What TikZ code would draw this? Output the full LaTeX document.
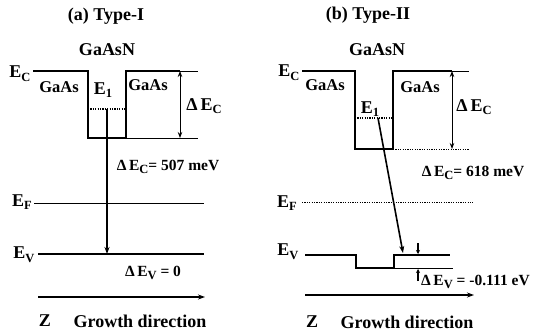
\documentclass[tikz,border=0pt]{standalone}
\usepackage{fontspec}
\setmainfont{Liberation Serif}
\usetikzlibrary{arrows.meta}
\newcommand\lowsub[1]{\raisebox{-0.45ex}{\fontsize{12.5}{13}\selectfont #1}}
\begin{document}
\begin{tikzpicture}[x=1pt,y=-1pt,
  lbl/.style={font=\fontsize{18}{20}\selectfont\bfseries, inner sep=0pt},
  slbl/.style={font=\fontsize{16.5}{18}\selectfont\bfseries, inner sep=0pt},
  vlbl/.style={font=\fontsize{15.5}{17}\selectfont\bfseries, inner sep=0pt},
  thickline/.style={line width=2.2pt},
  thinline/.style={line width=0.9pt},
  dotline/.style={line width=1.6pt, dash pattern=on 1.2pt off 1.2pt},
  tip/.style={-{Stealth[length=7pt,width=5pt]}},
  dtip/.style={{Stealth[length=6pt,width=4.5pt]}-{Stealth[length=6pt,width=4.5pt]}},
  ]
\useasboundingbox (0,0) rectangle (540,333);

% ---------------- panel (a)
\node[lbl] (ta) at (106,16) {(a) Type-I};
\node[lbl] (gna) at (107,50) {GaAsN};
\node[lbl] (eca) at (20,74) {E\lowsub{C}};
\node[slbl] (gla) at (59,87) {GaAs};
\node[slbl] (gra) at (148,85) {GaAs};
\node[lbl] (e1a) at (103,90) {E\lowsub{1}};
\node[lbl] (deca) at (204,106) {Δ\,E\lowsub{C}};
\node[vlbl] (dcva) at (168,167) {Δ\,E\lowsub{C}= 507 meV};
\node[lbl] (efa) at (22,202) {E\lowsub{F}};
\node[lbl] (eva) at (24,255) {E\lowsub{V}};
\node[vlbl] (dva) at (153,273) {Δ\,E\lowsub{V} = 0};
\node[lbl] (za) at (45,321) {Z};
\node[lbl] (gda) at (140,321) {Growth direction};

\coordinate (a1) at (33,71);
\coordinate (a2) at (88,71);
\coordinate (a3) at (88,138);
\coordinate (a4) at (126,138);
\coordinate (a5) at (126,71);
\coordinate (a6) at (180,71);
\coordinate (a7) at (198,71);
\coordinate (a8) at (180,138);
\coordinate (a9) at (198,138);
\draw[thickline, line join=miter] (a1) -- (a2) -- (a3) -- (a4) -- (a5) -- (a6);
\draw[thinline] (a6) -- (a7);
\draw[thinline] (a4) -- (a9);
\draw[thinline, dtip] (a6) -- (a8);
\coordinate (a10) at (88,109);
\coordinate (a11) at (126,109);
\draw[dotline] (a10) -- (a11);
\coordinate (a12) at (107,109);
\coordinate (a13) at (107,254);
\draw[line width=1.6pt, tip] (a12) -- (a13);
\coordinate (a14) at (34,203);
\coordinate (a15) at (204,203);
\draw[thinline] (a14) -- (a15);
\coordinate (a16) at (38,254);
\coordinate (a17) at (204,254);
\draw[thickline] (a16) -- (a17);
\coordinate (a18) at (38,297);
\coordinate (a19) at (205,297);
\draw[thickline, tip] (a18) -- (a19);

% ---------------- panel (b)
\node[lbl] (tb) at (368,15) {(b) Type-II};
\node[lbl] (gnb) at (377,50) {GaAsN};
\node[lbl] (ecb) at (289,73) {E\lowsub{C}};
\node[slbl] (glb) at (325,85) {GaAs};
\node[slbl] (grb) at (420,87) {GaAs};
\node[lbl] (e1b) at (370,109) {E\lowsub{1}};
\node[lbl] (decb) at (474,107) {Δ\,E\lowsub{C}};
\node[vlbl] (dcvb) at (473,173) {Δ\,E\lowsub{C}= 618 meV};
\node[lbl] (efb) at (287,203) {E\lowsub{F}};
\node[lbl] (evb) at (288,252) {E\lowsub{V}};
\node[vlbl, anchor=west] (dvb) at (421,282) {Δ\,E\lowsub{V} = -0.111 eV};
\node[lbl] (zb) at (312,322) {Z};
\node[lbl] (gdb) at (407,322) {Growth direction};

\coordinate (b1) at (302,71);
\coordinate (b2) at (355,71);
\coordinate (b3) at (355,149);
\coordinate (b4) at (393,149);
\coordinate (b5) at (393,71);
\coordinate (b6) at (452,71);
\coordinate (b7) at (469,71);
\coordinate (b8) at (452,149);
\coordinate (b9) at (469,149);
\draw[thickline, line join=miter] (b1) -- (b2) -- (b3) -- (b4) -- (b5) -- (b6);
\draw[thinline] (b6) -- (b7);
\draw[dotline, line width=1pt] (b4) -- (b9);
\draw[thinline, dtip] (b6) -- (b8);
\coordinate (b10) at (355,118);
\coordinate (b11) at (393,118);
\draw[dotline] (b10) -- (b11);
\coordinate (b12) at (378,118);
\coordinate (b13) at (403,253);
\draw[line width=1.6pt, tip] (b12) -- (b13);
\coordinate (b14) at (302,202);
\coordinate (b15) at (473,202);
\draw[dotline, line width=1pt] (b14) -- (b15);
\coordinate (b16) at (305,255);
\coordinate (b17) at (356,255);
\coordinate (b18) at (356,268);
\coordinate (b19) at (394,268);
\coordinate (b20) at (394,255);
\coordinate (b21) at (450,255);
\coordinate (b22) at (453,268);
\draw[thickline, line join=miter] (b16) -- (b17) -- (b18) -- (b19) -- (b20) -- (b21);
\draw[thinline] (b19) -- (b22);
\coordinate (b23) at (418,243);
\coordinate (b24) at (418,254);
\coordinate (b25) at (418,281);
\coordinate (b26) at (418,269);
\draw[line width=1.2pt, -{Stealth[length=4pt,width=4pt]}] (b23) -- (b24);
\draw[line width=1.2pt, -{Stealth[length=4pt,width=4pt]}] (b25) -- (b26);
\coordinate (b27) at (305,295);
\coordinate (b28) at (474,295);
\draw[thickline, tip] (b27) -- (b28);
\end{tikzpicture}
\end{document}
